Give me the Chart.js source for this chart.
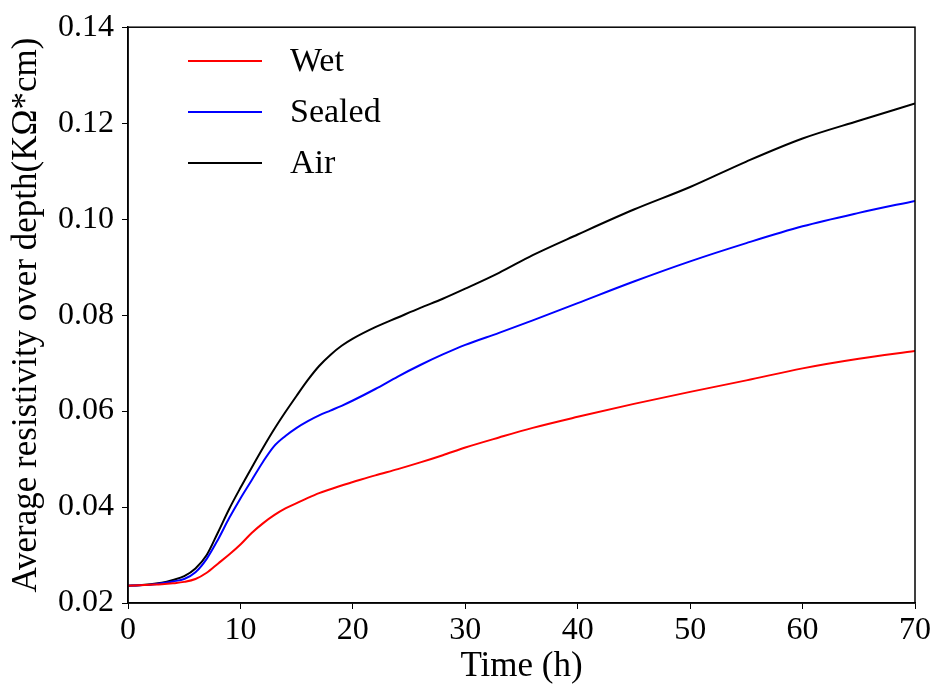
<!DOCTYPE html>
<html lang="en">
<head>
  <meta charset="UTF-8">
  <title>Average resistivity over depth</title>
  <script src="https://cdn.jsdelivr.net/npm/chart.js"></script>
  <style>
    body { margin: 0; background: #fff; }
  </style>
</head>
<body>

<canvas id="myChart" width="937" height="690"></canvas>

<script>
  // hours
  const times = [0, 1, 2, 3, 4, 5, 6, 7, 8, 9, 10, 11, 12, 13, 14, 15, 16, 17, 18, 19, 20,
    22, 24, 26, 28, 30, 33, 36, 40, 45, 50, 55, 60, 65, 70];

  const wet = [0.0236, 0.0237, 0.0238, 0.0239, 0.0241, 0.0244, 0.0250, 0.0263, 0.0282, 0.0301,
    0.0322, 0.0346, 0.0366, 0.0383, 0.0397, 0.0408, 0.0419, 0.0429, 0.0437, 0.0445, 0.0452,
    0.0466, 0.0479, 0.0493, 0.0508, 0.0524, 0.0545, 0.0565, 0.0588, 0.0615, 0.0640, 0.0664,
    0.0689, 0.0709, 0.0725];

  const sealed = [0.0236, 0.0237, 0.0238, 0.0241, 0.0245, 0.0250, 0.0264, 0.0292, 0.0332, 0.0377,
    0.0418, 0.0456, 0.0494, 0.0527, 0.0548, 0.0565, 0.0579, 0.0591, 0.0601, 0.0611, 0.0622,
    0.0646, 0.0672, 0.0696, 0.0718, 0.0738, 0.0763, 0.0789, 0.0825, 0.0870, 0.0912, 0.0950,
    0.0985, 0.1013, 0.1038];

  const air = [0.0236, 0.0237, 0.0239, 0.0242, 0.0248, 0.0256, 0.0272, 0.0300, 0.0347, 0.0396,
    0.0440, 0.0482, 0.0523, 0.0562, 0.0598, 0.0632, 0.0665, 0.0694, 0.0717, 0.0736, 0.0751,
    0.0775, 0.0795, 0.0815, 0.0834, 0.0855, 0.0888, 0.0925, 0.0968, 0.1020, 0.1067, 0.1120,
    0.1168, 0.1205, 0.1241];

  const xTicks = [0, 10, 20, 30, 40, 50, 60, 70];
  const yTicks = [0.02, 0.04, 0.06, 0.08, 0.10, 0.12, 0.14];

  const FONT = 'Liberation Serif';

  let toPoints = function (ys) {
    return times.map((t, i) => ({ x: t, y: ys[i] }));
  };

  // box around the plot + legend drawn inside the plot
  let framePlugin = {
    id: 'frame',
    afterDraw(chart) {
      let c = chart.ctx;
      let a = chart.chartArea;
      c.save();
      c.strokeStyle = '#000';
      c.lineWidth = 1.5;
      c.strokeRect(a.left, a.top, a.right - a.left, a.bottom - a.top);

      c.font = '34px "' + FONT + '"';
      c.textBaseline = 'middle';
      c.fillStyle = '#000';
      chart.data.datasets.forEach((ds, i) => {
        let y = 61 + i * 51;
        c.strokeStyle = ds.borderColor;
        c.lineWidth = 2;
        c.beginPath();
        c.moveTo(188, y);
        c.lineTo(262, y);
        c.stroke();
        c.fillText(ds.label, 290, y + 1);
      });
      c.restore();
    }
  };

  let ctx = document.getElementById('myChart').getContext('2d');
  let myChart = new Chart(ctx, {
    type: 'line',
    data: {
      datasets: [
        { label: 'Wet', data: toPoints(wet), borderColor: '#ff0000' },
        { label: 'Sealed', data: toPoints(sealed), borderColor: '#0000ff' },
        { label: 'Air', data: toPoints(air), borderColor: '#000000' }
      ]
    },
    options: {
      responsive: false,
      animation: false,
      layout: { padding: { top: 18, right: 22, left: 0, bottom: 0 } },
      elements: {
        point: { radius: 0 },
        line: { borderWidth: 2, cubicInterpolationMode: 'monotone', fill: false }
      },
      plugins: {
        legend: { display: false },
        tooltip: { enabled: false }
      },
      scales: {
        x: {
          type: 'linear',
          min: 0,
          max: 70,
          afterFit: s => { s.height = 87; },
          afterBuildTicks: s => { s.ticks = xTicks.map(v => ({ value: v })); },
          grid: { drawOnChartArea: false, drawTicks: true, tickLength: 6, color: '#000' },
          border: { color: '#000', width: 1.5 },
          ticks: {
            color: '#000', padding: 2, maxRotation: 0,
            font: { family: FONT, size: 32 }
          },
          title: {
            display: true, text: 'Time (h)', color: '#000',
            font: { family: FONT, size: 35 }, padding: { top: 0, bottom: 2 }
          }
        },
        y: {
          min: 0.02,
          max: 0.14,
          afterFit: s => { s.width = 128; },
          afterBuildTicks: s => { s.ticks = yTicks.map(v => ({ value: v })); },
          grid: { drawOnChartArea: false, drawTicks: true, tickLength: 6, color: '#000' },
          border: { color: '#000', width: 1.5 },
          ticks: {
            color: '#000', padding: 8,
            font: { family: FONT, size: 32 },
            callback: v => v.toFixed(2)
          },
          title: {
            display: true, text: 'Average resistivity over depth(KΩ*cm)', color: '#000',
            font: { family: FONT, size: 35 }, padding: { top: 6, bottom: 0 }
          }
        }
      }
    },
    plugins: [framePlugin]
  });
</script>

</body>
</html>
